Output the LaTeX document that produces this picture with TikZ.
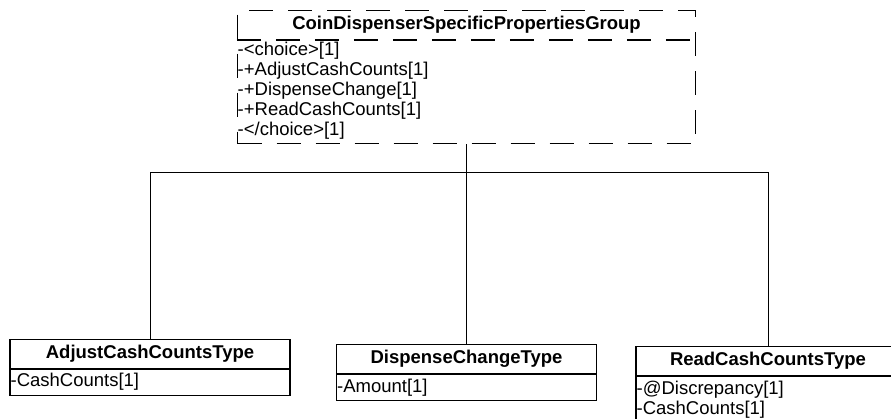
\documentclass[tikz,border=0pt]{standalone}
\usepackage{fontspec}
\setmainfont{Liberation Sans}
\usetikzlibrary{calc,positioning}

\begin{document}
\begin{tikzpicture}[x=1pt,y=-1pt,
  classbox/.style={draw=black,line width=1.2pt,inner sep=0pt},
  groupbox/.style={classbox,dash pattern=on 24pt off 15pt},
  classname/.style={font=\fontsize{18.5}{20}\selectfont\bfseries,inner sep=0pt},
  attrs/.style={font=\fontsize{18.5}{20}\selectfont,align=left,inner sep=0pt,anchor=base west},
  link/.style={draw=black,line width=0.9pt}]
\useasboundingbox (0,0) rectangle (891,419);
\node[groupbox,minimum width=458pt,minimum height=133pt,anchor=north] (group) at (466.5,10) {};
\node[classname] (groupname) at (466.5,25) {CoinDispenserSpecificPropertiesGroup};
\draw[groupbox] ($(group.north west)+(0,30)$) -- ($(group.north east)+(0,30)$);
% base anchor sits on the last line
\node[attrs] (groupattrs) at (237.5,136) {-<choice>[1]\\-+AdjustCashCounts[1]\\-+DispenseChange[1]\\-+ReadCashCounts[1]\\-</choice>[1]};
\coordinate (bus) at (466.5,172);
\foreach \nm/\cx/\ytop/\w/\hh/\ab/\ttl/\att in {adjust/150/339/280/56/47/AdjustCashCountsType/{-CashCounts[1]},dispense/466.5/344/260/56/48/DispenseChangeType/{-Amount[1]},read/768/346/264/78/68/ReadCashCountsType/{-@Discrepancy[1]\\-CashCounts[1]}}{
  \node[classbox,minimum width=\w pt,minimum height=\hh pt,anchor=north] (\nm) at (\cx,\ytop) {};
  \node[classname] (\nm-name) at (\cx,\ytop+15) {\ttl};
  \draw[classbox] ($(\nm.north west)+(0,30)$) -- ($(\nm.north east)+(0,30)$);
  \node[attrs] (\nm-attrs) at ($(\nm.north west)+(1,\ab)$) {\att};
  \draw[link] (bus) -| (\nm.north);
}
\draw[link] (group.south) -- (bus);
\end{tikzpicture}
\end{document}
